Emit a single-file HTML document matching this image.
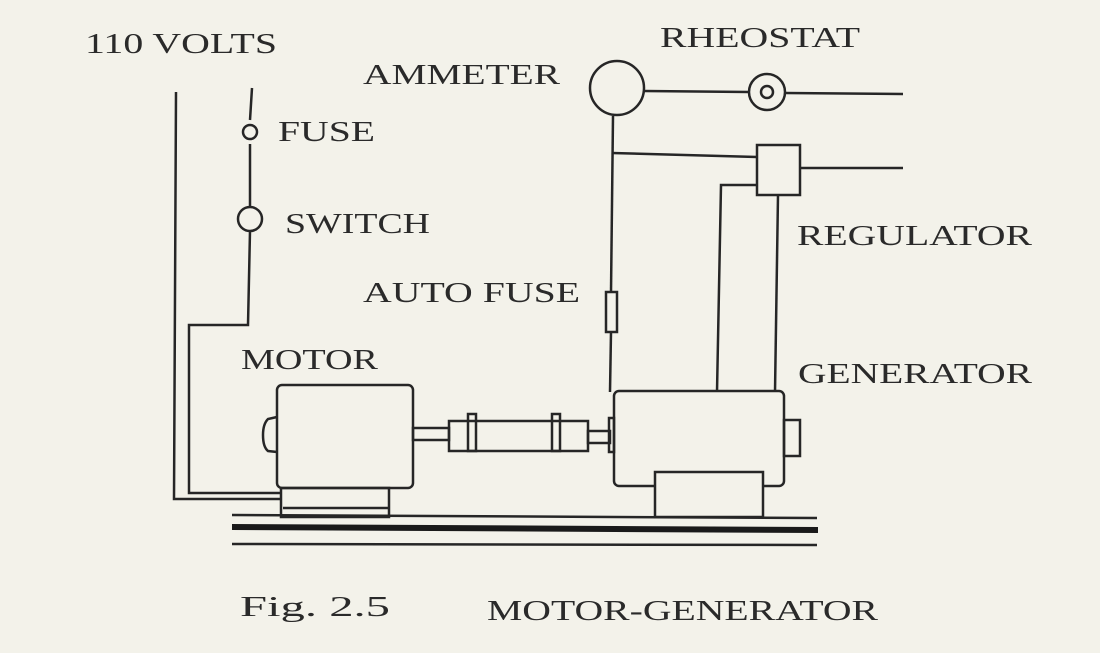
<!DOCTYPE html>
<html><head><style>
body{margin:0;background:#f3f2ea;}
svg{display:block}
text{font-family:"Liberation Serif",serif;font-size:28px;fill:#2a2a2a}
</style></head><body>
<svg width="1100" height="653" viewBox="0 0 1100 653" xmlns="http://www.w3.org/2000/svg">
<rect width="1100" height="653" fill="#f3f2ea"/>
<g stroke="#262626" stroke-width="2.5" fill="none">
<polyline points="176,92 174,499 281,499"/>
<polyline points="252,88 250,120"/>
<polyline points="250,144 250,207"/>
<polyline points="250,231 248,325 189,325 189,493 281,493"/>
<circle cx="250" cy="132" r="7"/>
<circle cx="250" cy="219" r="12"/>
<circle cx="617" cy="88" r="27"/>
<line x1="644" y1="91" x2="749" y2="92"/>
<circle cx="767" cy="92" r="18"/>
<circle cx="767" cy="92" r="6"/>
<line x1="785" y1="93" x2="903" y2="94"/>
<line x1="613" y1="116" x2="611" y2="292"/>
<rect x="606" y="292" width="11" height="40"/>
<line x1="611" y1="332" x2="610" y2="392"/>
<line x1="612" y1="153" x2="757" y2="157"/>
<rect x="757" y="145" width="43" height="50"/>
<line x1="800" y1="168" x2="903" y2="168"/>
<polyline points="757,185 721,185 717,392"/>
<line x1="778" y1="195" x2="775" y2="392"/>
<rect x="277" y="385" width="136" height="103" rx="5"/>
<path d="M277,417 L268,419 Q263,424 263,435 Q263,447 268,451 L277,452"/>
<rect x="281" y="488" width="108" height="29"/>
<line x1="283" y1="508" x2="389" y2="508"/>
<rect x="413" y="428" width="36" height="12"/>
<rect x="449" y="421" width="139" height="30"/>
<rect x="468" y="414" width="8" height="37"/>
<rect x="552" y="414" width="8" height="37"/>
<rect x="588" y="431" width="22" height="12"/>
<rect x="609" y="418" width="5" height="34"/>
<rect x="614" y="391" width="170" height="95" rx="5"/>
<rect x="784" y="420" width="16" height="36"/>
<rect x="655" y="472" width="108" height="45" fill="#f3f2ea"/>
<line x1="232" y1="515" x2="817" y2="518"/>
<line x1="232" y1="544" x2="817" y2="545"/>
</g>
<line x1="232" y1="527" x2="818" y2="530" stroke="#1a1a1a" stroke-width="6"/>
<text x="85" y="53" textLength="192" lengthAdjust="spacingAndGlyphs">110 VOLTS</text>
<text x="278" y="141" textLength="97" lengthAdjust="spacingAndGlyphs">FUSE</text>
<text x="285" y="233" textLength="145" lengthAdjust="spacingAndGlyphs">SWITCH</text>
<text x="363" y="84" textLength="197" lengthAdjust="spacingAndGlyphs">AMMETER</text>
<text x="660" y="47" textLength="200" lengthAdjust="spacingAndGlyphs">RHEOSTAT</text>
<text x="797" y="245" textLength="235" lengthAdjust="spacingAndGlyphs">REGULATOR</text>
<text x="363" y="302" textLength="217" lengthAdjust="spacingAndGlyphs">AUTO FUSE</text>
<text x="241" y="369" textLength="137" lengthAdjust="spacingAndGlyphs">MOTOR</text>
<text x="798" y="383" textLength="234" lengthAdjust="spacingAndGlyphs">GENERATOR</text>
<text x="240" y="616" textLength="150" lengthAdjust="spacingAndGlyphs">Fig. 2.5</text>
<text x="487" y="620" textLength="391" lengthAdjust="spacingAndGlyphs">MOTOR-GENERATOR</text>
</svg>
</body></html>
